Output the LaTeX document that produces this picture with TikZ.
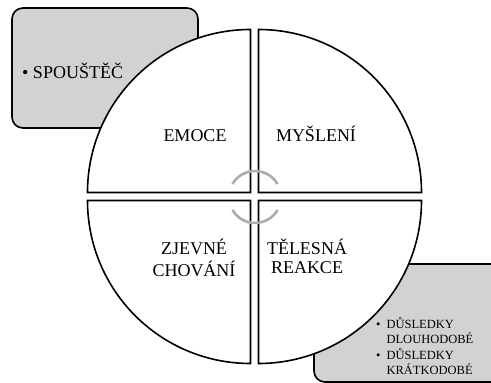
\documentclass[tikz,border=0pt]{standalone}
\usepackage{fontspec}
\setmainfont{Liberation Serif}
\begin{document}
\begin{tikzpicture}[x=1pt,y=1pt,
  sidebox/.style={draw=black,line width=1.6pt,fill=gray!35,rounded corners=11pt},
  sector/.style={draw=black,line width=1.6pt,fill=white},
  cyclearc/.style={draw=gray!65,line width=2.6pt},
  bigtext/.style={font=\fontsize{18}{19}\selectfont,inner sep=0pt},
  smalltext/.style={font=\fontsize{12.5}{14}\selectfont,inner sep=0pt}]
\useasboundingbox (0,0) rectangle (491,383);
\clip (0,0) rectangle (491,383);
% side boxes
\path[sidebox] (12,255) rectangle (198,375);
\path[sidebox] (314,1) rectangle (520,119);
% sectors
\coordinate (ctl) at (250.5,190.5);
\coordinate (ctr) at (258.5,190.5);
\coordinate (cbl) at (250.5,182.5);
\coordinate (cbr) at (258.5,182.5);
\path[sector] (ctl) -- ++(-163,0) arc[start angle=180,end angle=90,radius=163] -- cycle;
\path[sector] (ctr) -- ++(0,163) arc[start angle=90,end angle=0,radius=163] -- cycle;
\path[sector] (cbl) -- ++(0,-163) arc[start angle=270,end angle=180,radius=163] -- cycle;
\path[sector] (cbr) -- ++(163,0) arc[start angle=0,end angle=-90,radius=163] -- cycle;
% cycle arcs
\coordinate (cc) at (255,186);
\draw[cyclearc] ([shift={(30:26)}]cc) arc[start angle=30,end angle=150,radius=26];
\draw[cyclearc] ([shift={(210:26)}]cc) arc[start angle=210,end angle=330,radius=26];
% texts
\node[bigtext,anchor=base west] (trig) at (22,304) {• SPOUŠTĚČ};
\node[bigtext,anchor=base] (emo) at (195,241) {EMOCE};
\node[bigtext,anchor=base] (mys) at (316,241) {MYŠLENÍ};
\node[bigtext,anchor=base] (chov) at (194,128) {\begin{tabular}[t]{@{}c@{}}ZJEVNÉ\\CHOVÁNÍ\end{tabular}};
\node[bigtext,anchor=base] (tel) at (307,128) {\begin{tabular}[t]{@{}c@{}}TĚLESNÁ\\REAKCE\end{tabular}};
\node[smalltext,anchor=base west] (dus) at (376,54) {\begin{tabular}[t]{@{}l@{\hspace{6pt}}l@{}}•&DŮSLEDKY\\&DLOUHODOBÉ\\•&DŮSLEDKY\\&KRÁTKODOBÉ\end{tabular}};
\end{tikzpicture}
\end{document}
